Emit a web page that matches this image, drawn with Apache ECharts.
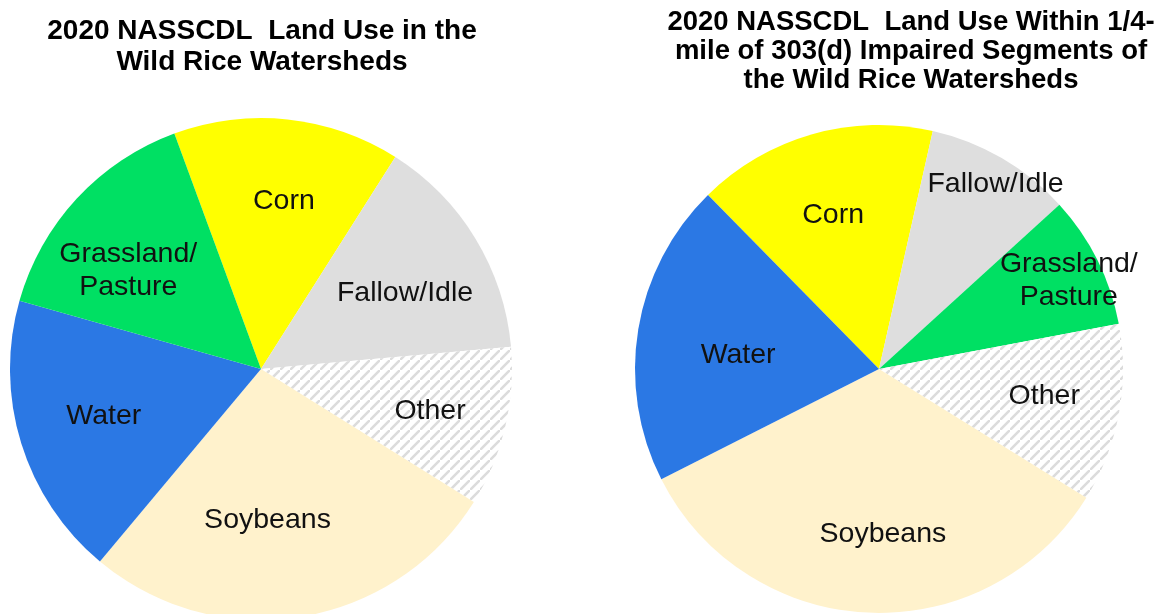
<!DOCTYPE html>
<html>
<head>
<meta charset="utf-8">
<script src="https://cdn.jsdelivr.net/npm/echarts@6/dist/echarts.min.js"></script>
<style>
  html, body { margin: 0; padding: 0; background: #ffffff; }
  #chart { width: 1162px; height: 614px; }
</style>
</head>
<body>
<div id="chart"></div>
<script>
// Land use categories, clockwise from the first slice of each pie
const leftCategories = ['Corn', 'Fallow/Idle', 'Other', 'Soybeans', 'Water', 'Grassland/\nPasture'];
const leftShares = [14.6, 14.6, 10.3, 27.2, 18.3, 15.0];

const rightCategories = ['Corn', 'Fallow/Idle', 'Grassland/\nPasture', 'Other', 'Soybeans', 'Water'];
const rightShares = [15.9, 9.7, 8.8, 11.8, 33.7, 20.1];

const leftTitle = '2020 NASSCDL  Land Use in the\nWild Rice Watersheds';
const rightTitle = '2020 NASSCDL  Land Use Within 1/4-\nmile of 303(d) Impaired Segments of\nthe Wild Rice Watersheds';

// Diagonal hatch used for the "Other" class
function hatchPattern() {
  const size = 10;
  const c = document.createElement('canvas');
  c.width = size; c.height = size;
  const g = c.getContext('2d');
  g.fillStyle = '#ffffff';
  g.fillRect(0, 0, size, size);
  g.strokeStyle = '#dcdcdc';
  g.lineWidth = 2.6;
  g.beginPath();
  g.moveTo(-size, size * 2); g.lineTo(size * 2, -size);
  g.moveTo(-size * 2, size); g.lineTo(size, -size * 2);
  g.moveTo(0, size * 3); g.lineTo(size * 3, 0);
  g.stroke();
  return c;
}

const classColors = {
  'Corn': '#ffff00',
  'Fallow/Idle': '#dedede',
  'Grassland/\nPasture': '#00e063',
  'Water': '#2b78e4',
  'Soybeans': '#fff2cc',
  'Other': { image: hatchPattern(), repeat: 'repeat' }
};

// Small nudges so each label sits where the slice has the most room
const leftLabelNudge = {
  'Corn': [5, 0], 'Fallow/Idle': [0, 12], 'Other': [5, 3],
  'Soybeans': [-20, -15], 'Water': [4, -3], 'Grassland/\nPasture': [-9, 16]
};
const rightLabelNudge = {
  'Corn': [-1, 4], 'Fallow/Idle': [7, 3], 'Grassland/\nPasture': [-5, 9],
  'Other': [4, -3], 'Soybeans': [11, 1], 'Water': [21, 13]
};

const fontFamily = '"Liberation Sans", Arial, Helvetica, sans-serif';

function toData(names, values) {
  return names.map((n, i) => ({ name: n, value: values[i], itemStyle: { color: classColors[n] } }));
}

// Filled pie without labels
function fillSeries(names, values, center, radius, startAngle) {
  return {
    type: 'pie',
    center: center,
    radius: [0, radius],
    startAngle: startAngle,
    clockwise: true,
    avoidLabelOverlap: false,
    silent: true,
    label: { show: false },
    labelLine: { show: false },
    itemStyle: { borderWidth: 0 },
    emphasis: { disabled: true },
    data: toData(names, values)
  };
}

// Transparent ring carrying the category labels; its inner radius sets how far out they sit
function labelSeries(names, values, center, radius, innerFrac, startAngle, shown, nudge) {
  return {
    type: 'pie',
    center: center,
    radius: [radius * innerFrac, radius],
    startAngle: startAngle,
    clockwise: true,
    avoidLabelOverlap: false,
    silent: true,
    z: 3,
    itemStyle: { color: 'rgba(0,0,0,0)', borderWidth: 0 },
    emphasis: { disabled: true },
    labelLine: { show: false },
    label: {
      position: 'inside',
      color: '#111111',
      fontFamily: fontFamily,
      fontSize: 28.5,
      lineHeight: 33,
      formatter: p => (shown.indexOf(p.name) >= 0 ? p.name : '')
    },
    data: names.map((n, i) => ({
      name: n, value: values[i],
      label: { offset: nudge[n] || [0, 0] }
    }))
  };
}

const leftCenter = [261, 369], leftR = 251, leftStart = 110.2;
const rightCenter = [879, 369], rightR = 244, rightStart = 134.5;

const option = {
  backgroundColor: '#ffffff',
  animation: false,
  title: [
    {
      text: leftTitle, left: 257, top: 11, textAlign: 'center',
      textStyle: { fontFamily: fontFamily, fontWeight: 'bold', fontSize: 28, lineHeight: 31, color: '#000' }
    },
    {
      text: rightTitle, left: 906, top: 3, textAlign: 'center',
      textStyle: { fontFamily: fontFamily, fontWeight: 'bold', fontSize: 27.5, lineHeight: 29, color: '#000' }
    }
  ],
  series: [
    fillSeries(leftCategories, leftShares, leftCenter, leftR, leftStart),
    labelSeries(leftCategories, leftShares, leftCenter, leftR, 0.32, leftStart, leftCategories, leftLabelNudge),
    fillSeries(rightCategories, rightShares, rightCenter, rightR, rightStart),
    labelSeries(rightCategories, rightShares, rightCenter, rightR, 0.32, rightStart,
      ['Corn', 'Other', 'Soybeans', 'Water'], rightLabelNudge),
    labelSeries(rightCategories, rightShares, rightCenter, rightR, 0.76, rightStart,
      ['Fallow/Idle', 'Grassland/\nPasture'], rightLabelNudge)
  ]
};

const chart = echarts.init(document.getElementById('chart'), null, { renderer: 'canvas' });
chart.setOption(option);
</script>
</body>
</html>
